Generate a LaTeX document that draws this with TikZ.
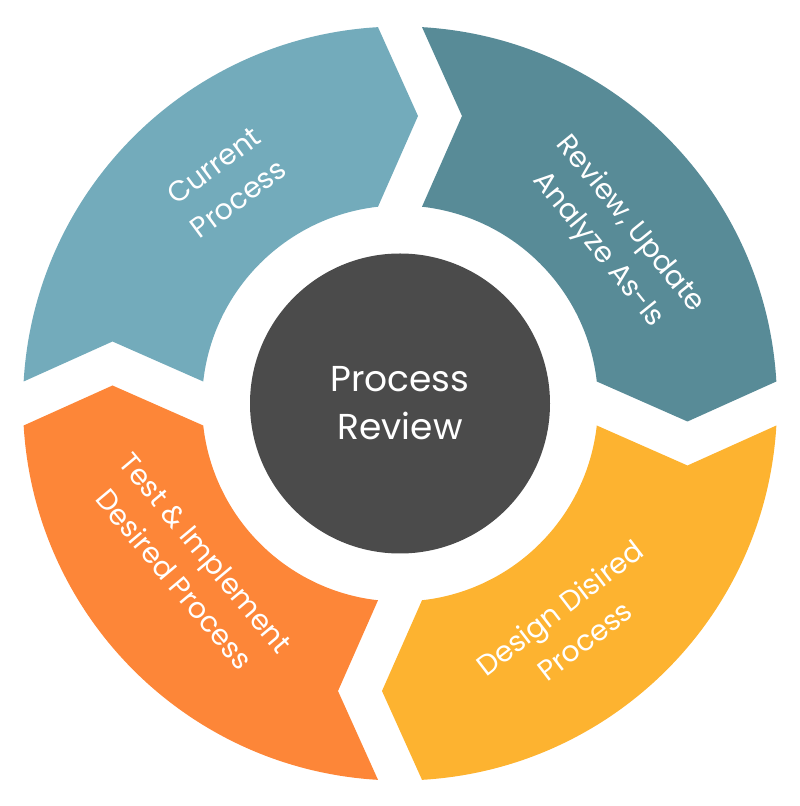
\documentclass[tikz,border=0pt]{standalone}
\usepackage{fontspec}
\setmainfont{Poppins}
\definecolor{cCurrent}{RGB}{115,171,187}
\definecolor{cReview}{RGB}{88,139,151}
\definecolor{cDesign}{RGB}{253,179,48}
\definecolor{cTest}{RGB}{253,134,56}
\definecolor{cCenter}{RGB}{75,75,75}
\tikzset{
  segshape/.pic={
    \fill[pic actions] (-196.77,22) -- (-287.5,62) -- (-376.36,22)
      arc[start angle=176.655, end angle=93.345, radius=377]
      -- (18,287.5) -- (-22,196.77)
      arc[start angle=96.379, end angle=173.621, radius=198] -- cycle;
  },
  seglabel/.style={text=white, align=center, inner sep=0pt,
    font=\fontsize{28.5}{41}\selectfont},
}
\begin{document}
\begin{tikzpicture}[x=1pt,y=1pt]
\useasboundingbox (0,0) rectangle (800,806);
\begin{scope}[shift={(400,402.5)}]
  \pic[fill=cCurrent] {segshape};
  \pic[fill=cReview, rotate=-90] {segshape};
  \pic[fill=cDesign, rotate=-180] {segshape};
  \pic[fill=cTest, rotate=90] {segshape};
\end{scope}
\node[circle, fill=cCenter, minimum size=300pt, inner sep=0pt, text=white,
  align=center, font=\fontsize{36}{48}\selectfont] (center) at (400,402.5) {Process\\Review};
\node[seglabel, rotate=36.5] (current) at (226,624) {Current\\Process};
\node[seglabel, rotate=-51] (review) at (614,569) {Review, Update\\Analyze As-Is};
\node[seglabel, rotate=37.5] (design) at (572,182) {Design Disired\\Process};
\node[seglabel, rotate=-50] (test) at (190,240) {Test \& Implement\\Desired Process};
\end{tikzpicture}
\end{document}
